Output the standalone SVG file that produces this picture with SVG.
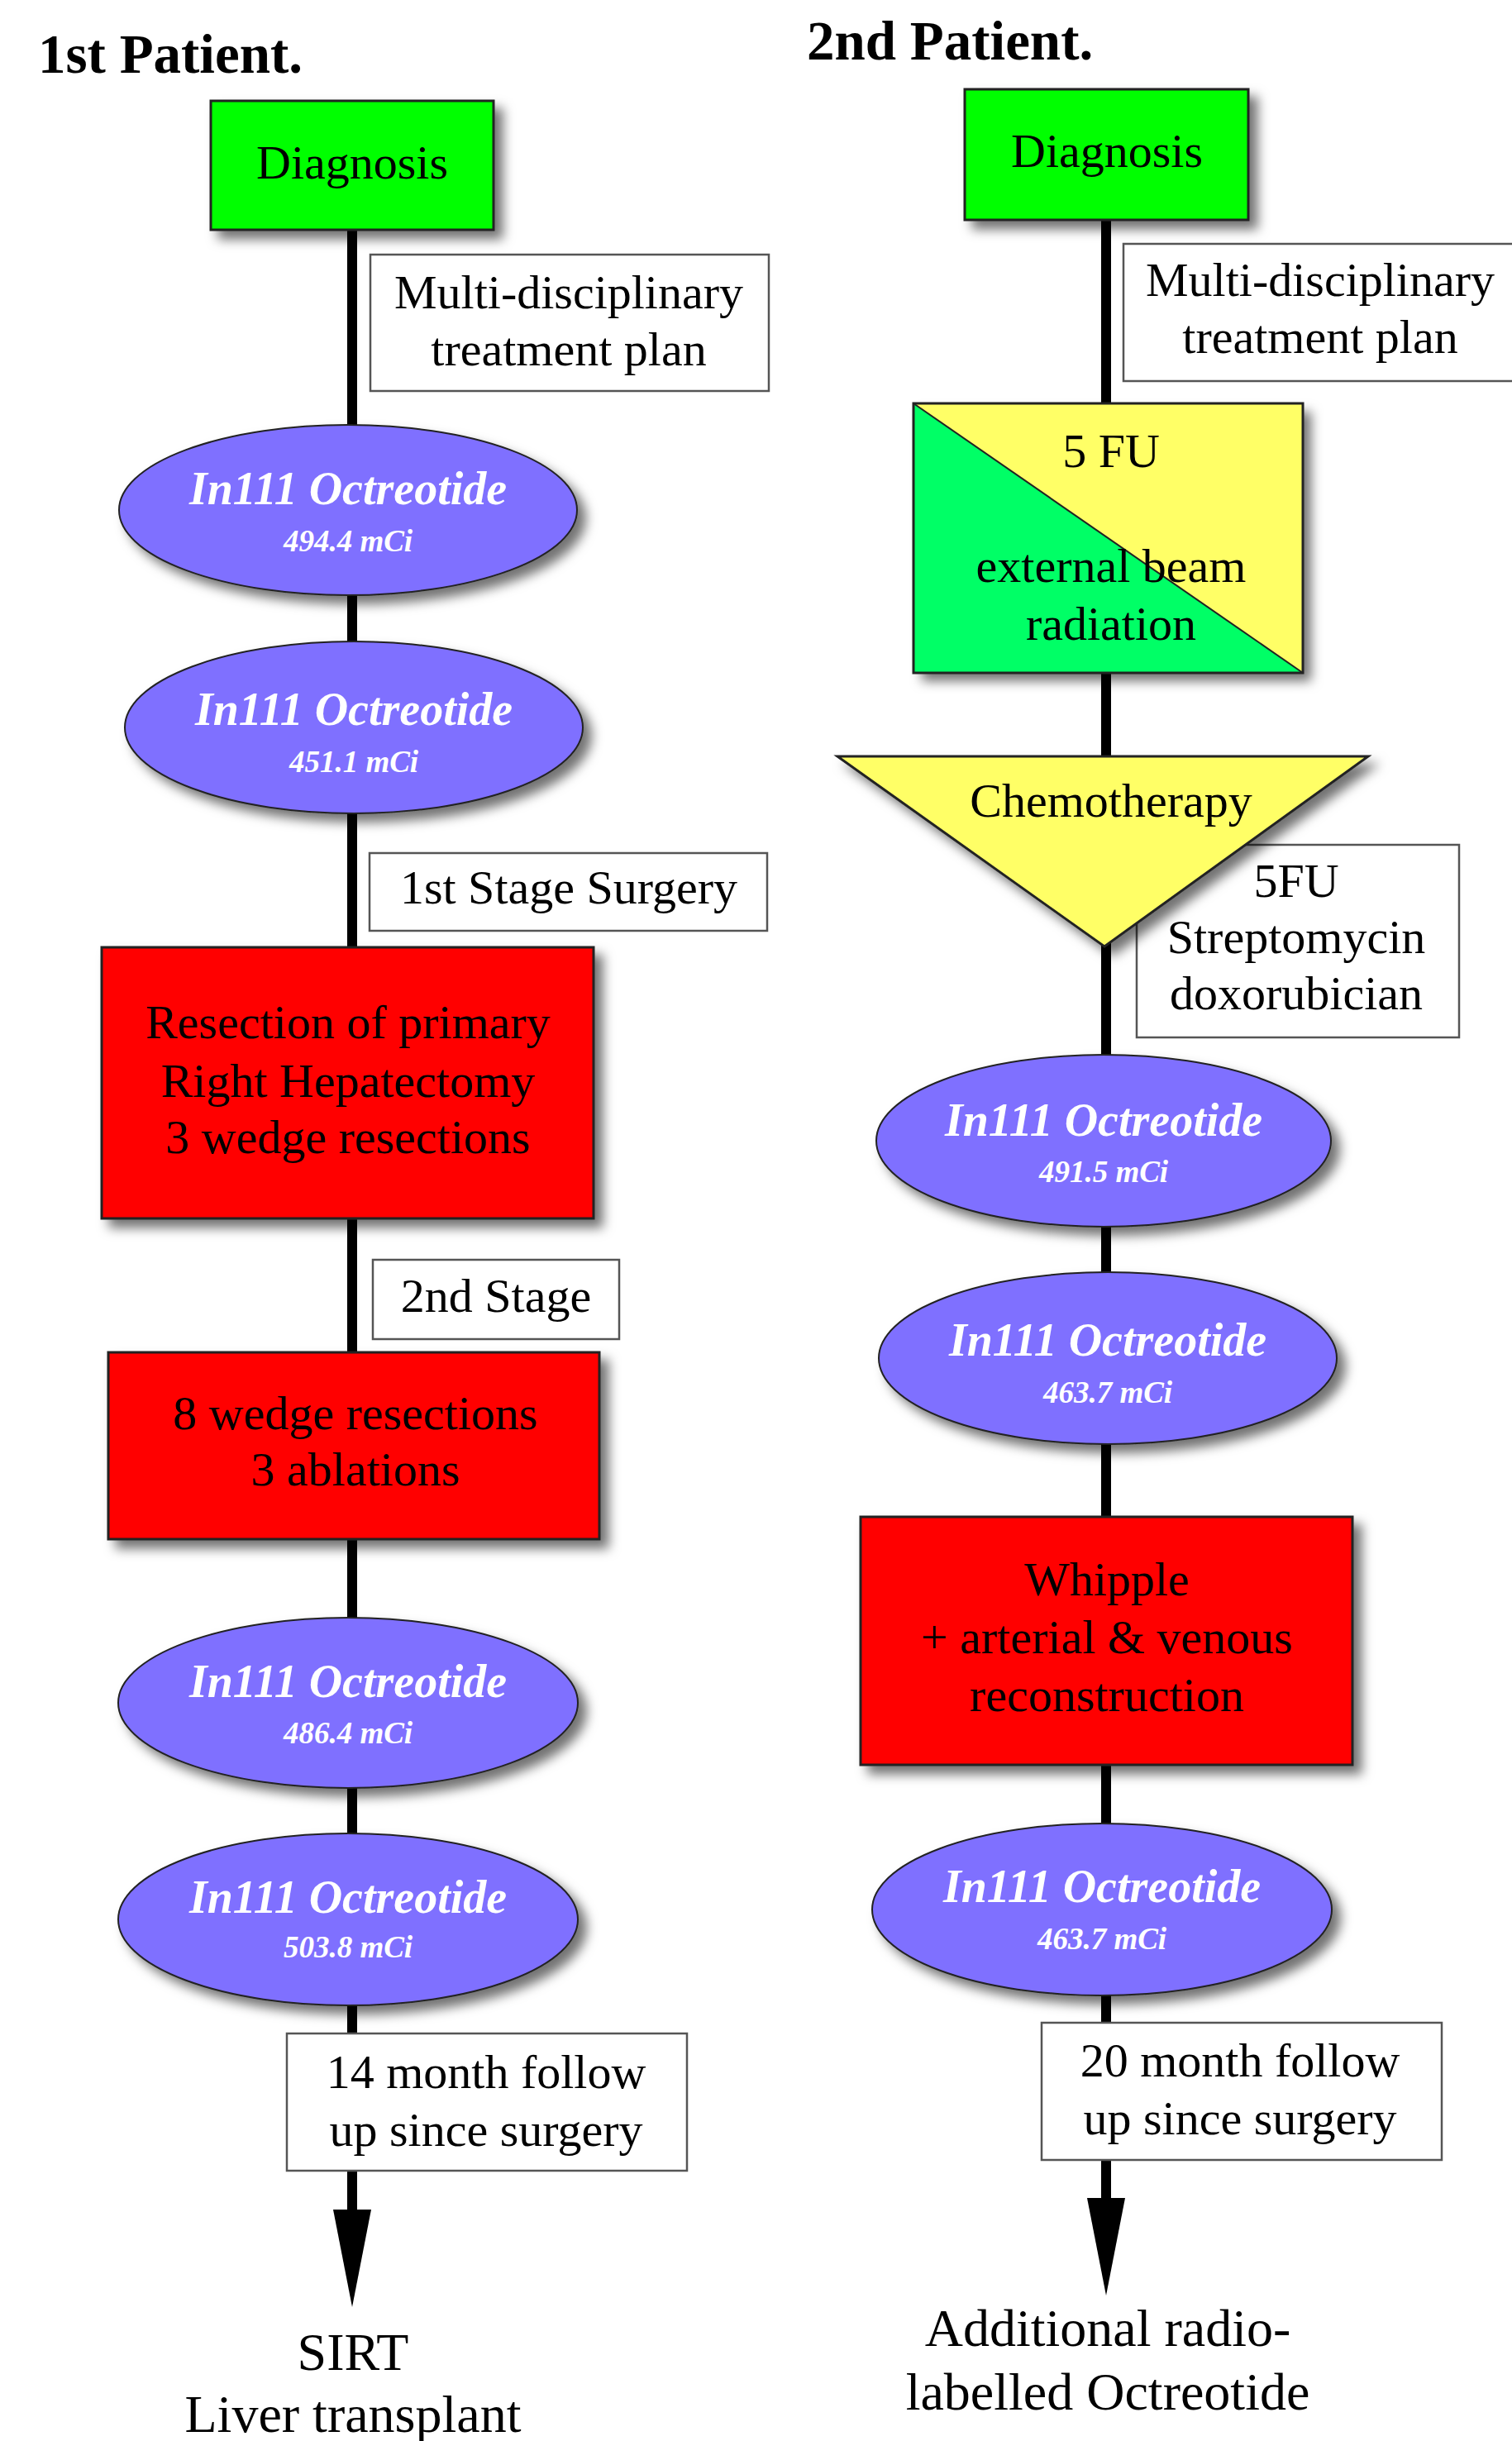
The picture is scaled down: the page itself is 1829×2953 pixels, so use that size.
<svg xmlns="http://www.w3.org/2000/svg" width="1829" height="2953" viewBox="0 0 1829 2953">
<defs>
<filter id="sh" x="-20%" y="-20%" width="150%" height="150%">
<feDropShadow dx="10" dy="10" stdDeviation="7" flood-color="#000" flood-opacity="0.55"/>
</filter>
<marker id="arr" markerUnits="userSpaceOnUse" markerWidth="130" markerHeight="60" refX="0" refY="30" orient="auto" viewBox="0 0 130 60">
<path d="M0,7 L118,30 L0,53 Z" fill="#000"/>
</marker>
<style>
text{font-family:"Liberation Serif","Times New Roman",serif;fill:#000;text-anchor:middle}
.t{font-size:58px}
.title{font-size:67px;font-weight:bold;text-anchor:start}
.big{font-size:64px}
.et{font-size:56px;font-weight:bold;font-style:italic;fill:#fff}
.es{font-size:37px;font-weight:bold;font-style:italic;fill:#fff}
.ell{fill:#7f6fff;stroke:#222;stroke-width:2;filter:url(#sh)}
.green{fill:#00ff00;stroke:#222;stroke-width:3;filter:url(#sh)}
.red{fill:#ff0000;stroke:#222;stroke-width:3;filter:url(#sh)}
.lab{fill:#fff;stroke:#555;stroke-width:2.5}
.con{stroke:#000;stroke-width:12;fill:none}
</style>
</defs>
<rect width="1829" height="2953" fill="#fff"/>

<text class="title" x="46" y="88">1st Patient.</text>
<text class="title" x="976" y="72">2nd Patient.</text>

<g id="connectors">
<path class="con" d="M426,270 V520"/>
<path class="con" d="M426,715 V780"/>
<path class="con" d="M426,980 V1150"/>
<path class="con" d="M426,1470 V1640"/>
<path class="con" d="M426,1858 V1960"/>
<path class="con" d="M426,2160 V2222"/>
<path class="con" d="M426,2420 V2673" marker-end="url(#arr)"/>
<path class="con" d="M1338,260 V492"/>
<path class="con" d="M1338,810 V920"/>
<path class="con" d="M1338,1140 V1280"/>
<path class="con" d="M1338,1480 V1542"/>
<path class="con" d="M1338,1744 V1838"/>
<path class="con" d="M1338,2130 V2209"/>
<path class="con" d="M1338,2410 V2659" marker-end="url(#arr)"/>
</g>

<!-- Patient 1 -->
<g id="p1-diagnosis">
<rect class="green" x="255" y="122" width="342" height="156"/>
<text class="t" x="426" y="216">Diagnosis</text>
</g>
<g id="p1-label-mdt">
<rect class="lab" x="448" y="308" width="482" height="165"/>
<text class="t" x="688" y="373">Multi-disciplinary</text>
<text class="t" x="688" y="442">treatment plan</text>
</g>
<g id="p1-oct1">
<ellipse class="ell" cx="421" cy="617" rx="277" ry="103"/>
<text class="et" x="421" y="610">In111 Octreotide</text>
<text class="es" x="421" y="667">494.4 mCi</text>
</g>
<g id="p1-oct2">
<ellipse class="ell" cx="428" cy="880" rx="277" ry="104"/>
<text class="et" x="428" y="877">In111 Octreotide</text>
<text class="es" x="428" y="934">451.1 mCi</text>
</g>
<g id="p1-label-stage1">
<rect class="lab" x="447" y="1032" width="481" height="94"/>
<text class="t" x="688" y="1093">1st Stage Surgery</text>
</g>
<g id="p1-resection">
<rect class="red" x="123" y="1146" width="595" height="328"/>
<text class="t" x="421" y="1256">Resection of primary</text>
<text class="t" x="421" y="1327">Right Hepatectomy</text>
<text class="t" x="421" y="1395">3 wedge resections</text>
</g>
<g id="p1-label-stage2">
<rect class="lab" x="451" y="1524" width="298" height="96"/>
<text class="t" x="600" y="1587">2nd Stage</text>
</g>
<g id="p1-wedge">
<rect class="red" x="131" y="1636" width="594" height="226"/>
<text class="t" x="430" y="1729">8 wedge resections</text>
<text class="t" x="430" y="1797">3 ablations</text>
</g>
<g id="p1-oct3">
<ellipse class="ell" cx="421" cy="2060" rx="278" ry="103"/>
<text class="et" x="421" y="2053">In111 Octreotide</text>
<text class="es" x="421" y="2109">486.4 mCi</text>
</g>
<g id="p1-oct4">
<ellipse class="ell" cx="421" cy="2322" rx="278" ry="104"/>
<text class="et" x="421" y="2314">In111 Octreotide</text>
<text class="es" x="421" y="2368">503.8 mCi</text>
</g>
<g id="p1-label-follow">
<rect class="lab" x="347" y="2460" width="484" height="166"/>
<text class="t" x="588" y="2526">14 month follow</text>
<text class="t" x="588" y="2596">up since surgery</text>
</g>
<g id="p1-outcome">
<text class="big" x="427" y="2867">SIRT</text>
<text class="big" x="427" y="2942">Liver transplant</text>
</g>

<!-- Patient 2 -->
<g id="p2-diagnosis">
<rect class="green" x="1167" y="108" width="343" height="158"/>
<text class="t" x="1339" y="202">Diagnosis</text>
</g>
<g id="p2-label-mdt">
<rect class="lab" x="1359" y="295" width="490" height="166"/>
<text class="t" x="1597" y="358">Multi-disciplinary</text>
<text class="t" x="1597" y="427">treatment plan</text>
</g>
<g id="p2-5fu-radiation">
<g filter="url(#sh)">
<polygon points="1105,488 1576,488 1576,814" fill="#ffff66"/>
<polygon points="1105,488 1105,814 1576,814" fill="#00ff66"/>
</g>
<line x1="1105" y1="488" x2="1576" y2="814" stroke="#222" stroke-width="2"/>
<rect x="1105" y="488" width="471" height="326" fill="none" stroke="#222" stroke-width="3"/>
<text class="t" x="1344" y="565">5 FU</text>
<text class="t" x="1344" y="704">external beam</text>
<text class="t" x="1344" y="774">radiation</text>
</g>
<g id="p2-label-chemo">
<rect class="lab" x="1375" y="1022" width="390" height="233"/>
<text class="t" x="1568" y="1085">5FU</text>
<text class="t" x="1568" y="1153">Streptomycin</text>
<text class="t" x="1568" y="1221">doxorubician</text>
</g>
<g id="p2-chemo">
<polygon points="1013,915 1655,915 1336,1145" fill="#ffff66" stroke="#222" stroke-width="3" filter="url(#sh)"/>
<text class="t" x="1344" y="988">Chemotherapy</text>
</g>
<g id="p2-oct1">
<ellipse class="ell" cx="1335" cy="1380" rx="275" ry="104"/>
<text class="et" x="1335" y="1374">In111 Octreotide</text>
<text class="es" x="1335" y="1430">491.5 mCi</text>
</g>
<g id="p2-oct2">
<ellipse class="ell" cx="1340" cy="1643" rx="277" ry="104"/>
<text class="et" x="1340" y="1640">In111 Octreotide</text>
<text class="es" x="1340" y="1697">463.7 mCi</text>
</g>
<g id="p2-whipple">
<rect class="red" x="1041" y="1835" width="595" height="300"/>
<text class="t" x="1339" y="1930">Whipple</text>
<text class="t" x="1339" y="2000">+ arterial &amp; venous</text>
<text class="t" x="1339" y="2070">reconstruction</text>
</g>
<g id="p2-oct3">
<ellipse class="ell" cx="1333" cy="2310" rx="278" ry="104"/>
<text class="et" x="1333" y="2301">In111 Octreotide</text>
<text class="es" x="1333" y="2358">463.7 mCi</text>
</g>
<g id="p2-label-follow">
<rect class="lab" x="1260" y="2447" width="484" height="166"/>
<text class="t" x="1500" y="2512">20 month follow</text>
<text class="t" x="1500" y="2582">up since surgery</text>
</g>
<g id="p2-outcome">
<text class="big" x="1340" y="2838">Additional radio-</text>
<text class="big" x="1340" y="2915">labelled Octreotide</text>
</g>
</svg>
